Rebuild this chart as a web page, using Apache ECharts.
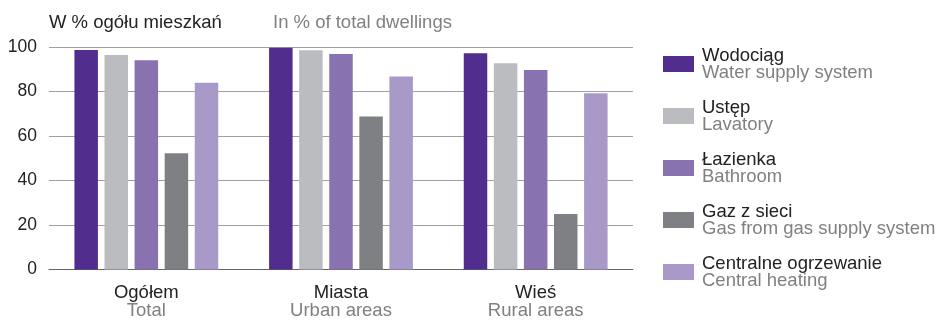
<!DOCTYPE html>
<html>
<head>
<meta charset="utf-8">
<style>html,body{margin:0;padding:0;background:#fff;}#c{width:940px;height:320px;}</style>
<script src="https://cdn.jsdelivr.net/npm/echarts@6/dist/echarts.min.js"></script>
</head>
<body>
<div id="c"></div>
<script>
const categoriesPl = ['Ogółem', 'Miasta', 'Wieś'];
const categoriesEn = ['Total', 'Urban areas', 'Rural areas'];
const seriesPl = ['Wodociąg', 'Ustęp', 'Łazienka', 'Gaz z sieci', 'Centralne ogrzewanie'];
const seriesEn = ['Water supply system', 'Lavatory', 'Bathroom', 'Gas from gas supply system', 'Central heating'];
const wodociag = [98.7, 99.7, 97.2];
const ustep = [96.4, 98.5, 92.7];
const lazienka = [94.0, 96.9, 89.7];
const gaz = [52.3, 68.8, 25.0];
const centralne = [83.9, 86.7, 79.2];
const yTicks = [0, 20, 40, 60, 80, 100];
const colors = ['#512d8e', '#bbbcbf', '#8872b0', '#7f8083', '#a999c9'];

const values = [wodociag, ustep, lazienka, gaz, centralne];
const FONT = 'Liberation Sans, Arial, sans-serif';
const FS = 18.5;

const chart = echarts.init(document.getElementById('c'), null, {renderer: 'canvas'});
chart.setOption({
  animation: false,
  textStyle: {fontFamily: FONT},
  title: [
    {text: 'W % ogółu mieszkań', left: 49, top: 13, padding: 0, textStyle: {fontSize: FS, fontWeight: 'normal', color: '#222', fontFamily: FONT}},
    {text: 'In % of total dwellings', left: 273, top: 13, padding: 0, textStyle: {fontSize: FS, fontWeight: 'normal', color: '#808080', fontFamily: FONT}}
  ],
  grid: {left: 49, right: 307, top: 47, bottom: 49, containLabel: false},
  legend: {
    orient: 'vertical', left: 663, top: 46, padding: 0, itemWidth: 31, itemHeight: 16, itemGap: 16,
    selectedMode: false, icon: 'rect',
    data: seriesPl,
    formatter: function (name) { const i = seriesPl.indexOf(name); return '{a|' + name + '}\n{b|' + seriesEn[i] + '}'; },
    textStyle: {
      padding: [0, 0, 0, 3],
      rich: {
        a: {fontSize: FS, lineHeight: 17, color: '#222', fontFamily: FONT},
        b: {fontSize: FS, lineHeight: 17, color: '#808080', fontFamily: FONT}
      }
    }
  },
  xAxis: {
    type: 'category', data: categoriesPl,
    axisLine: {lineStyle: {color: '#666', width: 1}},
    axisTick: {show: false},
    axisLabel: {
      margin: 14, interval: 0,
      formatter: function (v, i) { return '{a|' + v + '}\n{b|' + categoriesEn[i] + '}'; },
      rich: {
        a: {fontSize: FS, lineHeight: 18, color: '#222', fontFamily: FONT},
        b: {fontSize: FS, lineHeight: 18, color: '#808080', fontFamily: FONT}
      }
    }
  },
  yAxis: {
    type: 'value', min: yTicks[0], max: yTicks[yTicks.length - 1], interval: 20,
    axisLine: {show: false}, axisTick: {show: false},
    splitLine: {lineStyle: {color: '#a0a0a0', width: 1}},
    axisLabel: {margin: 12, fontSize: 17.5, color: '#222', fontFamily: FONT}
  },
  series: seriesPl.map(function (name, i) {
    return {
      name: name, type: 'bar', data: values[i], barWidth: 23.5, barGap: '28%',
      itemStyle: {color: colors[i]}
    };
  })
});
</script>
</body>
</html>
